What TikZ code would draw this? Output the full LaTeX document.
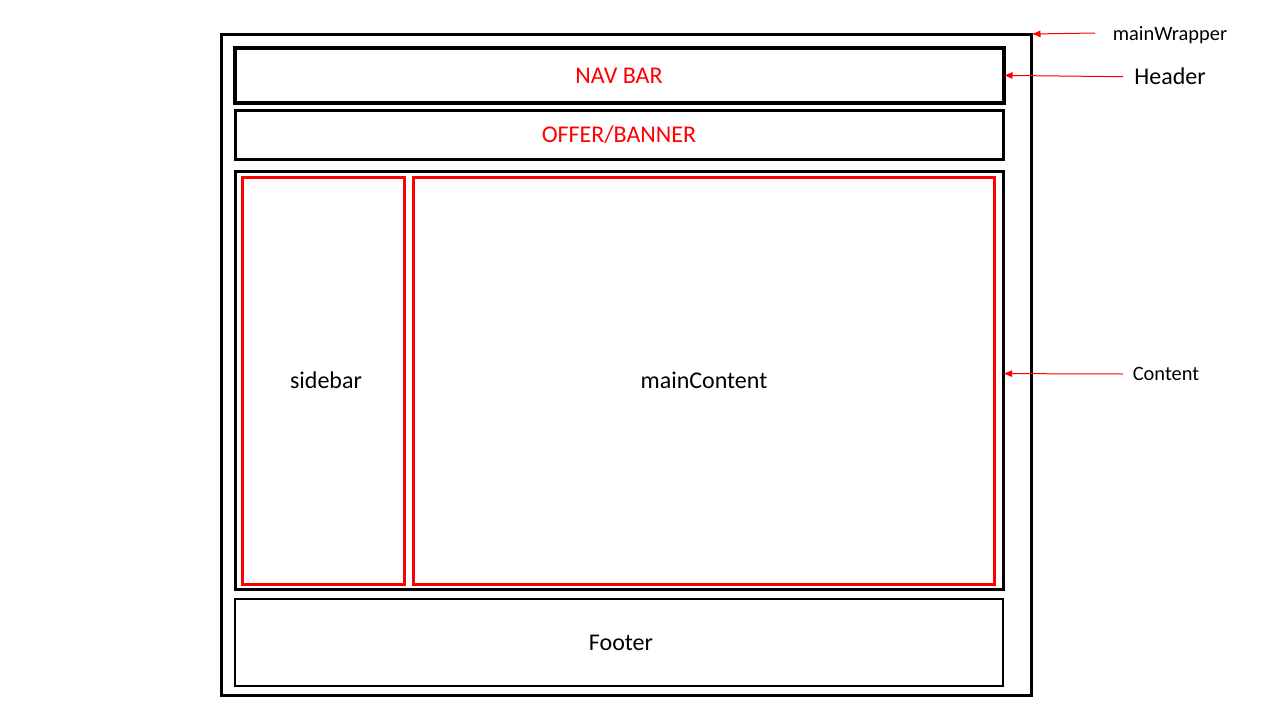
\documentclass[tikz,border=0pt]{standalone}
\usepackage{fontspec}
\setmainfont{Carlito}
\usetikzlibrary{arrows.meta,calc}
\definecolor{wred}{RGB}{255,0,0}
\begin{document}
\begin{tikzpicture}[x=1pt,y=-1pt,
  box/.style={draw=black,rectangle,inner sep=0pt,outer sep=0pt},
  redbox/.style={draw=wred,rectangle,inner sep=0pt,outer sep=0pt,line width=3pt},
  boxtext/.style={font=\fontsize{24}{28}\selectfont,inner sep=0pt,anchor=base},
  sidetext/.style={font=\fontsize{20.4}{24}\selectfont,inner sep=0pt,anchor=base,text=black},
  pointer/.style={draw=wred,line width=1pt,-{Latex[length=9pt,width=7pt]}}]
\useasboundingbox[fill=white] (0,0) rectangle (1280,720);

% page layout blocks
\node[box,line width=3pt,minimum width=810.5pt,minimum height=661pt] (wrap) at (626.25,364.5) {};
\node[box,line width=4pt,minimum width=768.5pt,minimum height=55.8pt] (nav) at (619.25,75.4) {};
\node[box,line width=3pt,minimum width=767.5pt,minimum height=48.6pt] (offer) at (619.25,135) {};
\node[box,line width=3pt,minimum width=767.5pt,minimum height=418pt] (content) at (619.25,380.3) {};
\node[redbox,minimum width=162pt,minimum height=406.7pt] (side) at (323.3,380.65) {};
\node[redbox,minimum width=580.7pt,minimum height=406.7pt] (maincont) at (703.65,380.65) {};
\node[box,line width=2pt,minimum width=768pt,minimum height=87.3pt] (foot) at (619,642.65) {};

% block captions
\node[boxtext,text=wred] (navlbl) at (619,83) {NAV BAR};
\node[boxtext,text=wred] (offerlbl) at (619,142) {OFFER/BANNER};
\node[boxtext] (sidelbl) at (326,388) {sidebar};
\node[boxtext] (mainlbl) at (704,388) {mainContent};
\node[boxtext] (footlbl) at (621,650) {Footer};

% outside labels with pointers
\node[sidetext] (wraplbl) at (1170,40) {mainWrapper};
\node[boxtext] (headlbl) at (1170,84) {Header};
\node[sidetext] (contlbl) at (1166,380) {Content};

\coordinate (wraptail) at (1095,33);
\coordinate (headtail) at (1123,76.7);
\coordinate (conttail) at (1123,374);

\draw[pointer] (wraptail) -- (wrap.north east);
\draw[pointer] (headtail) -- (nav.east);
\draw[pointer] (conttail) -- (content.1.5);
\end{tikzpicture}
\end{document}
